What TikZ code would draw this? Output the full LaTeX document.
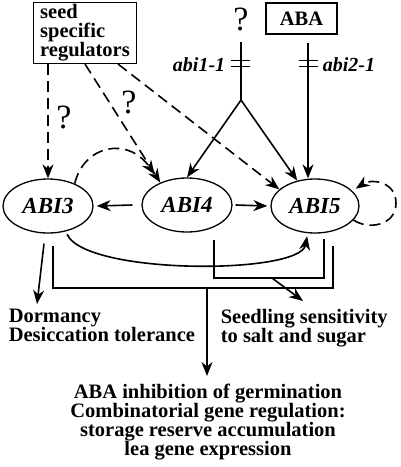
\documentclass[tikz,border=0pt]{standalone}
\usepackage{fontspec}
\setmainfont{Liberation Serif}
\usetikzlibrary{shapes.geometric,arrows.meta}
\begin{document}
\begin{tikzpicture}[x=1pt, y=-1pt, line width=1.6pt,
  >={Stealth[length=14pt,width=11pt,inset=4.5pt]},
  font=\fontsize{20.5}{19}\selectfont\bfseries,
  gene/.style={ellipse, draw, line width=1.3pt, minimum width=90pt, minimum height=54pt, inner sep=0pt, font=\fontsize{23}{23}\selectfont\bfseries\itshape},
  regbox/.style={draw, line width=1.3pt},
  regdash/.style={dash pattern=on 11pt off 6pt},
  qmark/.style={inner sep=0pt, font=\fontsize{34}{34}\selectfont\mdseries},
  mutant/.style={inner sep=0pt, font=\fontsize{20}{20}\selectfont\bfseries\itshape},
  outcome/.style={inner sep=0pt, align=left, anchor=north west, font=\fontsize{20.5}{18.5}\selectfont\bfseries}]
\useasboundingbox (0,0) rectangle (400,467);

% regulators
\node[regbox, align=left, inner xsep=7pt, inner ysep=2pt, font=\fontsize{20.5}{19}\selectfont\bfseries] (seed) at (85,33) {seed\\specific\\regulators};
\node[regbox, minimum width=71pt, minimum height=31pt, inner sep=0pt] (aba) at (301.5,18.5) {ABA};
\node[qmark] (q1) at (241,19) {?};

% genes
\node[gene] (abi3) at (48,206) {ABI3};
\node[gene] (abi4) at (187,205) {ABI4};
\node[gene, minimum width=88pt] (abi5) at (315,206) {ABI5};

% abi1-1 and abi2-1
\coordinate (fork) at (241,100);
\coordinate (abaline) at (308,43);
\draw[shorten <=11pt] (q1.south) -- (fork);
\draw[->] (fork) -- (abi4.north);
\draw[->] (fork) -- (abi5.125);
\draw[->] (abaline) -- (abaline |- abi5.north);
\foreach \y in {60.5,66.5}
{
\draw[line width=1.3pt] (231,\y) -- (250,\y);
\draw[line width=1.3pt] (299,\y) -- (318,\y);
}
\node[mutant, anchor=east] (abi1) at (226,65) {abi1-1};
\node[mutant, anchor=west] (abi2) at (322,65) {abi2-1};

% seed specific regulators
\draw[->, regdash] (seed.south -| abi3.north) -- (abi3.north);
\draw[->, regdash] (seed.south) -- (abi4.140);
\draw[->, regdash] ([xshift=33pt]seed.south) -- (abi5.155);
\node[qmark] (q2) at (64,117) {?};
\node[qmark] (q3) at (129,102) {?};

\draw[->] ([xshift=-9pt]abi4.west) -- ([xshift=3pt]abi3.east);
\draw[->] ([xshift=3pt]abi4.east) -- ([xshift=-3pt]abi5.west);
\draw[->, regdash, shorten >=10pt] (abi3.40) .. controls (84,145) and (128,136) .. (abi4.140);
\draw[->, regdash, shorten >=4pt] (abi5.-20) .. controls (368,230) and (396,226) .. (396,203) .. controls (396,182) and (372,178) .. (abi5.22);
\draw[->, shorten <=3pt, shorten >=3pt] (abi3.-55) .. controls (85,275) and (300,275) .. (abi5.-105);

% outputs
\coordinate (in4) at (214,240);
\coordinate (in5) at (324,239);
\coordinate (out3) at (53,246);
\coordinate (out5) at (333,246);
\coordinate (split) at (272,278);
\coordinate (merge) at (207,288);
\draw (in4) -- ++(0,38) -| (in5);
\draw (out3) -- ++(0,42) -| (out5);

\node[outcome] (dorm) at (8,308) {Dormancy\\Desiccation tolerance};
\node[outcome] (seedling) at (220,308) {Seedling sensitivity\\to salt and sugar};
\node[inner sep=0pt, align=center, anchor=north] (germ) at (208,383) {ABA inhibition of germination\\Combinatorial gene regulation:\\storage reserve accumulation\\lea gene expression};

\draw[->] ([xshift=-4pt,yshift=-10pt]abi3.south) -- ([xshift=29pt,yshift=4pt]dorm.north west);
\draw[->] (split) -- ([xshift=83pt,yshift=7pt]seedling.north west);
\draw[->] (merge) -- ([yshift=7pt]merge |- germ.north);
\end{tikzpicture}
\end{document}
